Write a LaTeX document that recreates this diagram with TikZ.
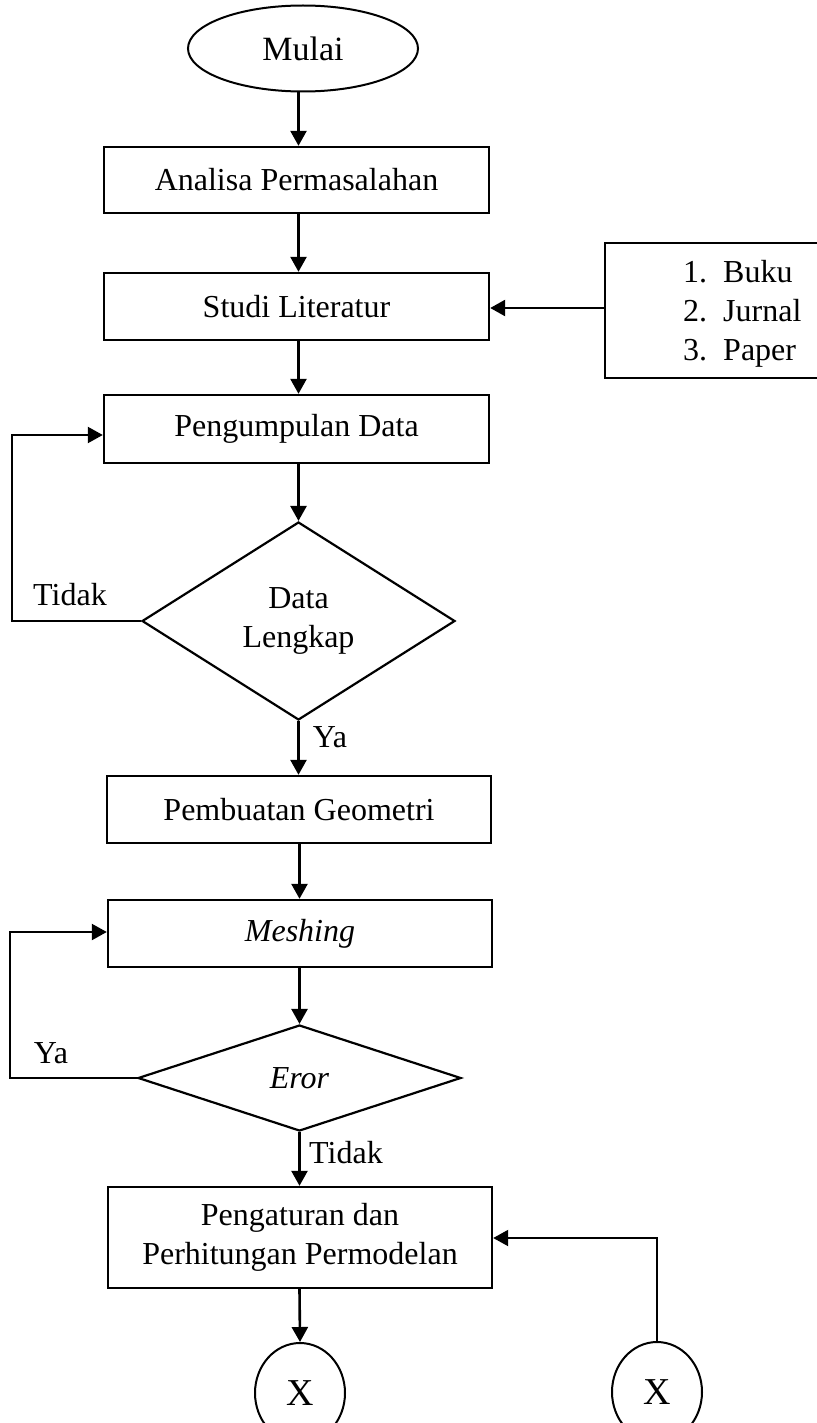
\documentclass[tikz,border=0pt]{standalone}
\usepackage{fontspec}
\setmainfont{Liberation Serif}
\usetikzlibrary{shapes.geometric,arrows.meta}
\begin{document}
\begin{tikzpicture}[x=1pt,y=-1pt,
  every node/.style={font=\fontsize{32}{39}\selectfont},
  proc/.style={draw,line width=2.4pt,rectangle,inner sep=0pt,align=center},
  dec/.style={draw,line width=2.2pt,diamond,inner sep=0pt,align=center},
  term/.style={draw,line width=2pt,ellipse,inner sep=0pt},
  conn/.style={line width=2.6pt,-{Triangle[length=15pt,width=16pt]}},
  lbl/.style={inner sep=0pt}]
\useasboundingbox (0,0) rectangle (816,1423);

\node[term,minimum width=230pt,minimum height=86pt,font=\fontsize{34}{40}\selectfont] (mulai) at (303,48.5) {Mulai};
\node[proc,minimum width=385pt,minimum height=66pt] (analisa) at (296.5,180) {Analisa Permasalahan};
\node[proc,minimum width=385pt,minimum height=67pt] (studi) at (296.5,306.5) {Studi Literatur};
\node[proc,minimum width=214pt,minimum height=135pt] (lit) at (712,310.5) {};
\node[lbl,anchor=west] (littext) at (683,314) {\begin{tabular}{@{}r@{\hspace{16pt}}l@{}}1.&Buku\\2.&Jurnal\\3.&Paper\end{tabular}};
\node[proc,minimum width=385pt,minimum height=68pt] (peng) at (296.5,429) {Pengumpulan Data};
\node[dec,minimum width=313pt,minimum height=198pt] (d1) at (298.5,621) {Data\\Lengkap};
\node[proc,minimum width=384pt,minimum height=67pt] (geo) at (299,809.5) {Pembuatan Geometri};
\node[proc,minimum width=384pt,minimum height=67pt] (mesh) at (300,933.5) {\textit{Meshing}};
\node[dec,minimum width=323pt,minimum height=106pt] (d2) at (299.5,1078) {\textit{Eror}};
\node[proc,minimum width=384pt,minimum height=101pt] (atur) at (300,1237.5) {Pengaturan dan\\Perhitungan Permodelan};
\node[term,minimum width=90pt,minimum height=100pt,font=\fontsize{38}{44}\selectfont] (x1) at (300,1393) {X};
\node[term,minimum width=90pt,minimum height=100pt,font=\fontsize{38}{44}\selectfont] (x2) at (657,1392) {X};

\node[lbl] (t1) at (70,595) {Tidak};
\node[lbl] (y1) at (330,737) {Ya};
\node[lbl] (y2) at (51,1053) {Ya};
\node[lbl] (t2) at (346,1153) {Tidak};

\coordinate (c1) at (12,435);
\coordinate (c2) at (10,932);
\coordinate (c3) at (657,1238);

\draw[conn] (d1.north |- mulai.south) -- (d1.north |- analisa.north);
\draw[conn] (d1.north |- analisa.south) -- (d1.north |- studi.north);
\draw[conn] (d1.north |- studi.south) -- (d1.north |- peng.north);
\draw[conn] (lit.west |- 0,308) -- (studi.east |- 0,308);
\draw[conn] (d1.north |- peng.south) -- (d1.north);
\draw[conn,line width=2.2pt] (d1.west) -- (c1 |- d1.west) -- (c1) -- (peng.west |- c1);
\draw[conn] (d1.south) -- (d1.south |- geo.north);
\draw[conn] (geo.south -| d2.north) -- (d2.north |- mesh.north);
\draw[conn] (d2.north |- mesh.south) -- (d2.north);
\draw[conn,line width=2.2pt] (d2.west) -- (c2 |- d2.west) -- (c2) -- (mesh.west |- c2);
\draw[conn] (d2.south) -- (d2.south |- atur.north);
\draw[conn] (d2.south |- atur.south) -- (x1.north);
\draw[conn,line width=2pt] (x2.north) -- (c3) -- (atur.east |- c3);
\end{tikzpicture}
\end{document}
